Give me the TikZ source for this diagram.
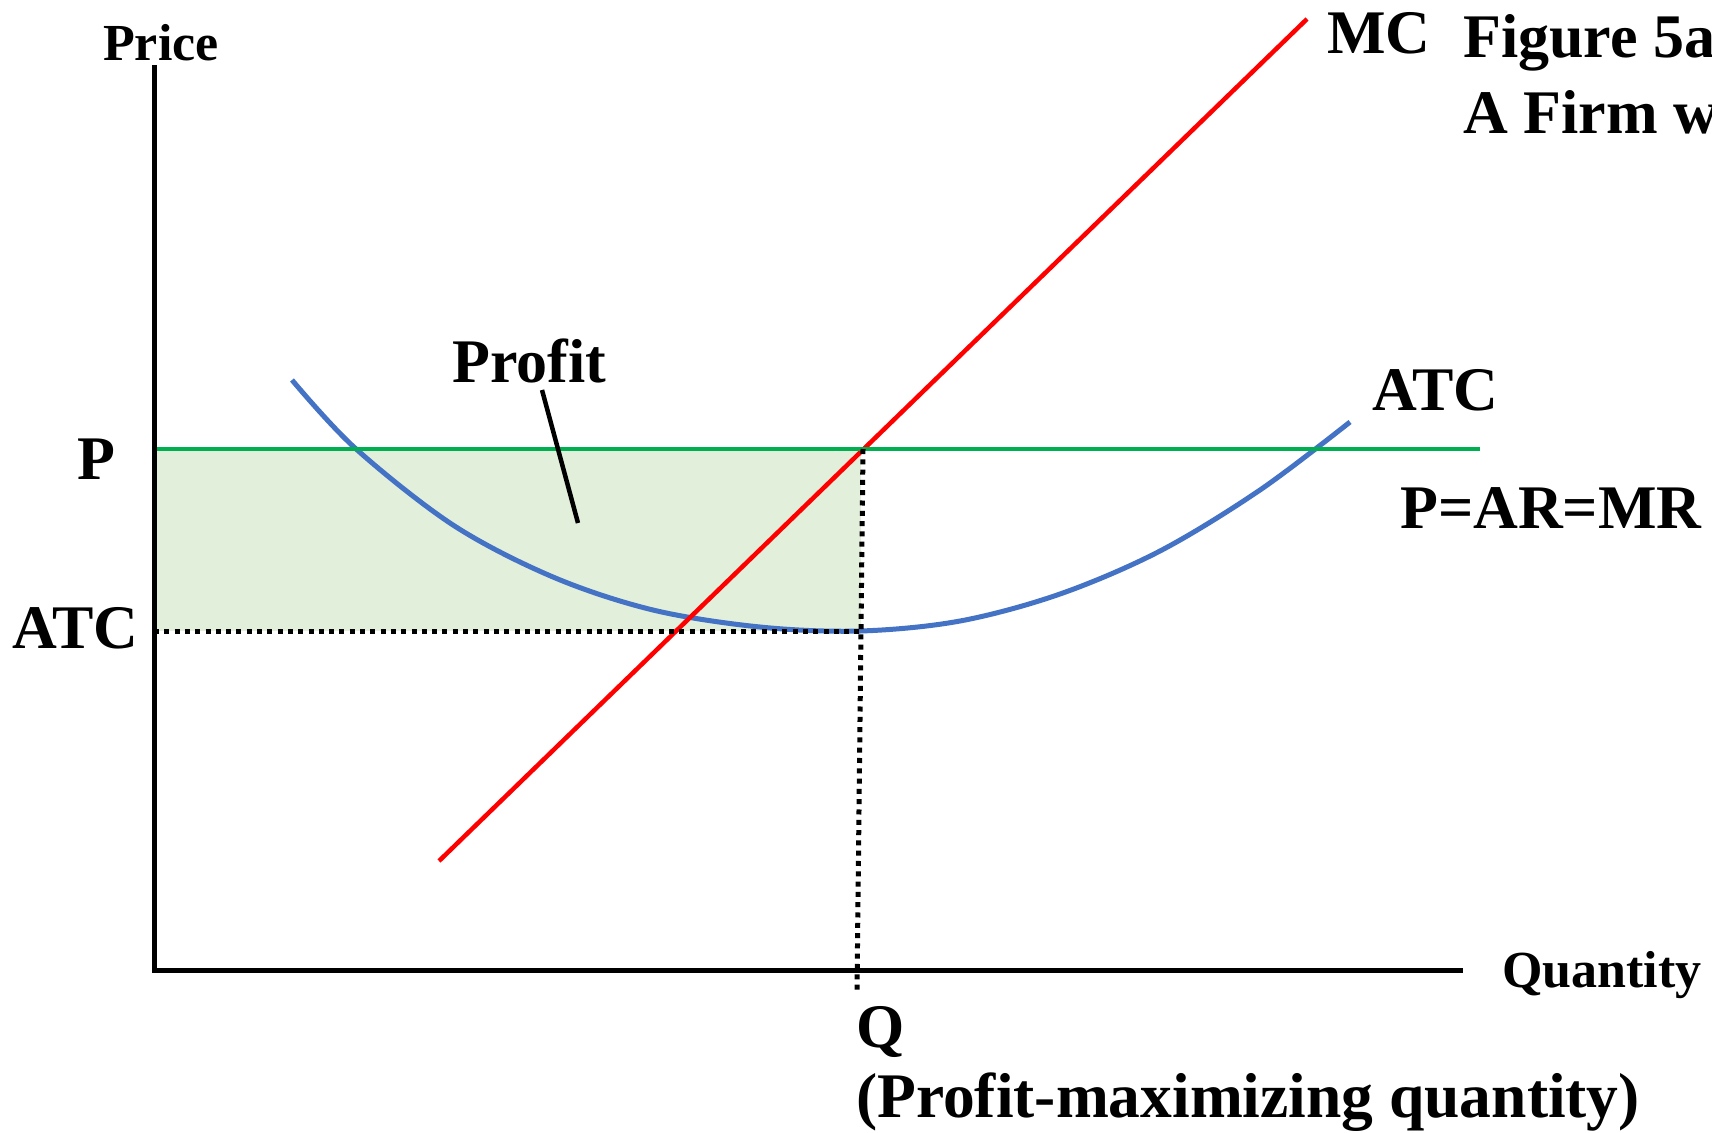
\documentclass[tikz,border=0pt]{standalone}
\usepackage{fontspec}
\setmainfont{Liberation Serif}
\definecolor{mcred}{HTML}{FF0000}
\definecolor{pgreen}{HTML}{00B050}
\definecolor{atcblue}{HTML}{4472C4}
\definecolor{proffill}{HTML}{E2EFDA}
\begin{document}
\begin{tikzpicture}[x=1pt,y=-1pt,
  lbl/.style={anchor=base west,inner sep=0pt,font=\fontsize{62}{74}\selectfont\bfseries},
  smalllbl/.style={anchor=base west,inner sep=0pt,font=\fontsize{52}{60}\selectfont\bfseries},
  axisline/.style={line width=5pt,black},
  dotline/.style={line width=5pt,black,dash pattern=on 5pt off 5.3pt},
  curve/.style={line width=5pt}]
\useasboundingbox (0,0) rectangle (1712,1132);
% key coordinates
\coordinate (O) at (154,970);
\coordinate (Ytop) at (154,65);
\coordinate (Xend) at (1463,970);
\coordinate (Pleft) at (154,449);
\coordinate (Pright) at (1480,449);
\coordinate (Eq) at (863,449);
\coordinate (Atcleft) at (154,631);
\coordinate (Atcmin) at (861,631);
\coordinate (Qbot) at (857,990);
\coordinate (MCa) at (439,861);
\coordinate (MCb) at (1307,19);
\coordinate (PLa) at (542,390);
\coordinate (PLb) at (578,523);
% profit area
\fill[proffill] (Pleft) rectangle (Atcmin);
% ATC curve
\draw[curve,atcblue] plot[smooth,tension=0.55] coordinates {(292,380) (355,448) (453,525) (553,577) (653,610) (760,627) (860,631) (960,621) (1060,594) (1160,551) (1260,490) (1350,422)};
% MC
\draw[line width=4.5pt,mcred] (MCa) -- (MCb);
% P=AR=MR
\draw[line width=4.5pt,pgreen] (Pleft) -- (Pright);
% dotted guides
\draw[dotline] (Atcleft) -- (Atcmin);
\draw[dotline] (Eq) -- (Qbot);
% axes
\draw[axisline] (Ytop) -- (O) -- (Xend);
% profit pointer
\draw[line width=4.5pt] (PLa) -- (PLb);
% labels
\node[smalllbl] (price) at (103,60) {Price};
\node[smalllbl] (quantity) at (1502,987) {Quantity};
\node[lbl] (mc) at (1327,53) {MC};
\node[lbl] (fig1) at (1463,57) {Figure 5a};
\node[lbl] (fig2) at (1463,133) {A Firm w};
\node[lbl] (atcr) at (1372,410) {ATC};
\node[lbl] (parmr) at (1400,528) {P=AR=MR};
\node[lbl] (plab) at (77,479) {P};
\node[lbl] (atcl) at (12,648) {ATC};
\node[lbl] (qlab) at (856,1047) {Q};
\node[lbl,font=\fontsize{63.5}{74}\selectfont\bfseries] (pmq) at (856,1117) {(Profit-maximizing quantity)};
\node[lbl] (profit) at (452,382) {Profit};
\end{tikzpicture}
\end{document}
